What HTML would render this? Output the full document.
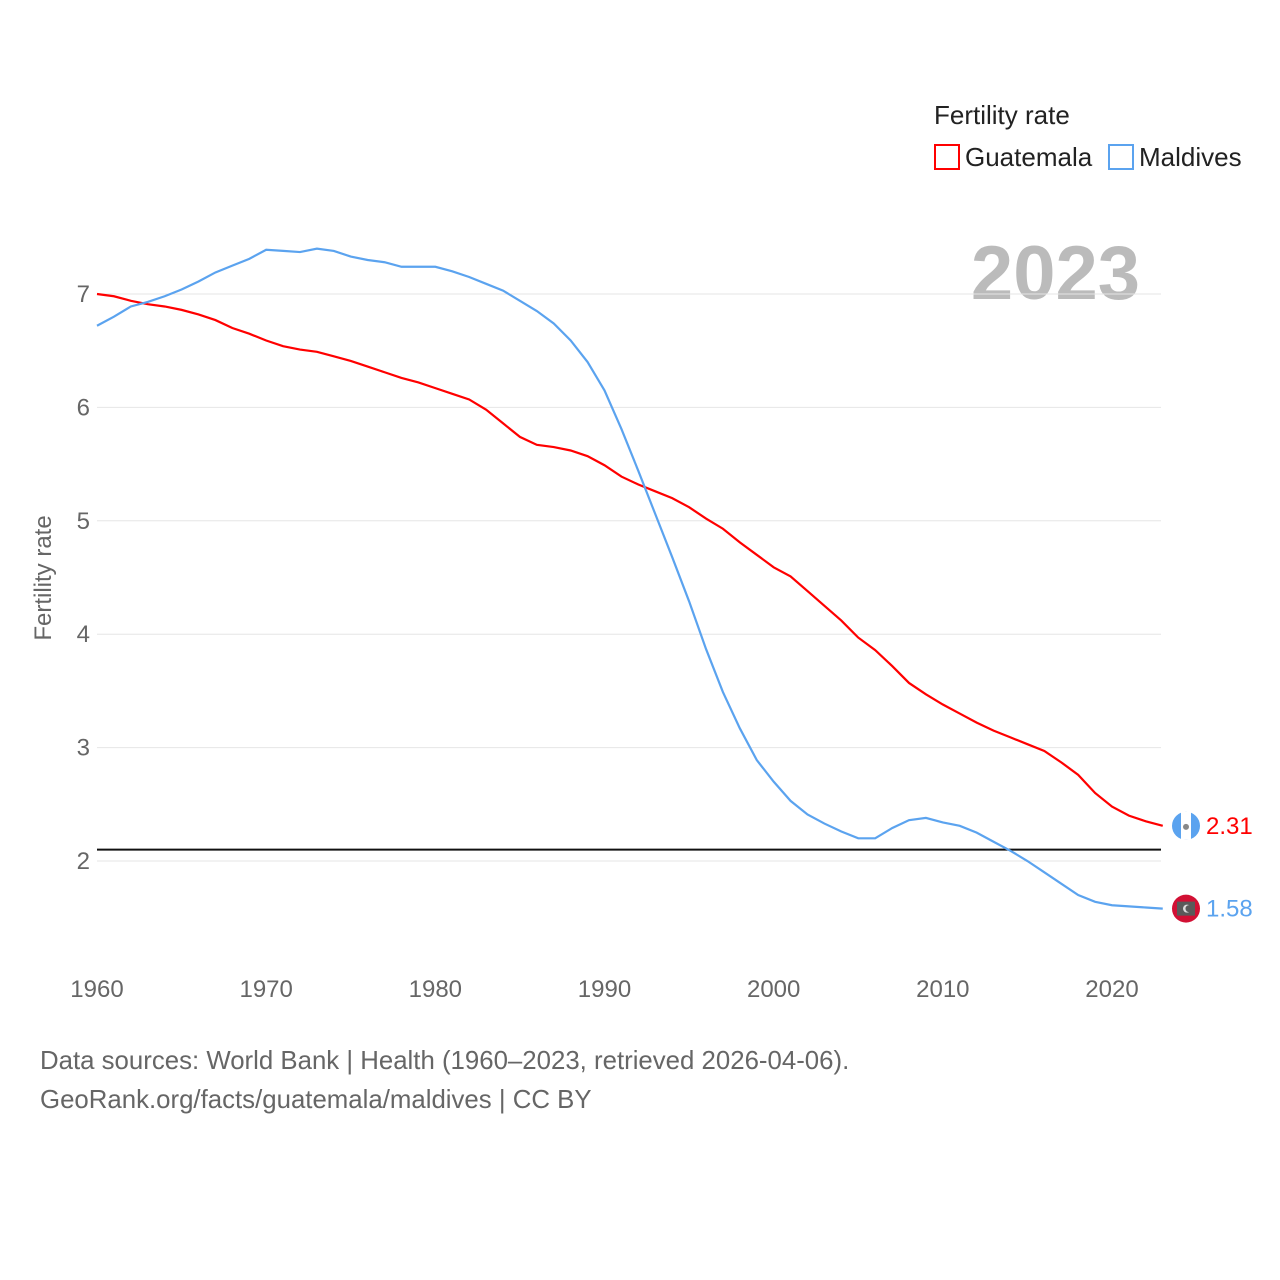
<!DOCTYPE html>
<html><head><meta charset="utf-8"><style>
body{margin:0;background:#fff;}
svg{display:block;font-family:"Liberation Sans",sans-serif;}
</style></head><body>
<svg id="chart" width="1280" height="1280">
<text x="934" y="124" font-size="26" fill="#222">Fertility rate</text>
<g><rect x="935" y="145" width="24" height="24" fill="none" stroke="#f00" stroke-width="2"/><text x="965" y="166" font-size="26" fill="#222">Guatemala</text></g>
<g><rect x="1109" y="145" width="24" height="24" fill="none" stroke="#5ba3ef" stroke-width="2"/><text x="1139" y="166" font-size="26" fill="#222">Maldives</text></g>
<text x="1140" y="299" font-size="76" font-weight="bold" fill="#bbb" text-anchor="end">2023</text>
<text transform="translate(51,578) rotate(-90)" font-size="24" fill="#666" text-anchor="middle">Fertility rate</text>
<g id="grid"></g><g id="series"></g>
<text x="40" y="1069" font-size="25.8" fill="#666">Data sources: World Bank | Health (1960–2023, retrieved 2026-04-06).</text>
<text x="40" y="1108" font-size="25.8" fill="#666">GeoRank.org/facts/guatemala/maldives | CC BY</text>
</svg>
<script>
const years=[];for(let y=1960;y<=2023;y++)years.push(y);
const guatemala=[7.0,6.98,6.94,6.91,6.89,6.86,6.82,6.77,6.70,6.65,6.59,6.54,6.51,6.49,6.45,6.41,6.36,6.31,6.26,6.22,6.17,6.12,6.07,5.98,5.86,5.74,5.67,5.65,5.62,5.57,5.49,5.39,5.32,5.26,5.20,5.12,5.02,4.93,4.81,4.70,4.59,4.51,4.38,4.25,4.12,3.97,3.86,3.72,3.57,3.47,3.38,3.30,3.22,3.15,3.09,3.03,2.97,2.87,2.76,2.60,2.48,2.40,2.35,2.31];
const maldives=[6.72,6.80,6.89,6.93,6.98,7.04,7.11,7.19,7.25,7.31,7.39,7.38,7.37,7.40,7.38,7.33,7.30,7.28,7.24,7.24,7.24,7.20,7.15,7.09,7.03,6.94,6.85,6.74,6.59,6.40,6.15,5.81,5.44,5.06,4.68,4.29,3.87,3.49,3.17,2.89,2.70,2.53,2.41,2.33,2.26,2.20,2.20,2.29,2.36,2.38,2.34,2.31,2.25,2.17,2.09,2.00,1.90,1.80,1.70,1.64,1.61,1.60,1.59,1.58];
const yTicks=[2,3,4,5,6,7];
const xTicks=[1960,1970,1980,1990,2000,2010,2020];
const refLine=2.1;
const NS='http://www.w3.org/2000/svg';
const X=v=>97+(v-1960)*(1112-97)/60;
const Y=v=>861-(v-2)*(861-294)/5;
const grid=document.getElementById('grid'),ser=document.getElementById('series');
function mk(tag,at,parent){const e=document.createElementNS(NS,tag);for(const k in at)e.setAttribute(k,at[k]);parent.appendChild(e);return e;}
yTicks.forEach(t=>{
 const l=mk('line',{x1:97,x2:1161,y1:Y(t),y2:Y(t),stroke:'#e6e6e6','stroke-width':1},grid);
 
 
 const tx=mk('text',{x:90,y:Y(t)+8,'font-size':24,fill:'#666','text-anchor':'end'},grid);tx.textContent=t;
 
 
});
xTicks.forEach(t=>{
 const tx=mk('text',{x:X(t),y:997,'font-size':24,fill:'#666','text-anchor':'middle'},grid);tx.textContent=t;
 
 
});
const rl=mk('line',{x1:97,x2:1161,y1:Y(refLine),y2:Y(refLine),stroke:'#111','stroke-width':2},grid);


function draw(data,color,name){
 const p=mk('polyline',{points:data.map((v,i)=>X(years[i])+','+Y(v)).join(' '),fill:'none',stroke:color,'stroke-width':2.2},ser);
 
 
 const last=data[data.length-1],cy=Y(last);
 const lbl=mk('text',{x:1206,y:cy+8,'font-size':24,fill:color},ser);lbl.textContent=last.toFixed(2);
 
 
 return cy;
}
const gy=draw(guatemala,'#f00','guatemala');
const my=draw(maldives,'#5ba3ef','maldives');
const gf=mk('g',{},ser);


mk('circle',{cx:1186,cy:gy,r:14,fill:'#5ba3ef'},gf);
mk('rect',{x:1181,y:gy-14,width:10,height:28,fill:'#fff'},gf);
mk('circle',{cx:1186,cy:gy+1,r:3,fill:'#888'},gf);
const mf=mk('g',{},ser);


mk('circle',{cx:1186,cy:my,r:14,fill:'#d21034'},mf);
mk('rect',{x:1177,y:my-7,width:18,height:14,fill:'#5a5a5a'},mf);
mk('circle',{cx:1187,cy:my,r:4,fill:'#ddd'},mf);
mk('circle',{cx:1189,cy:my,r:3.5,fill:'#5a5a5a'},mf);
</script>
</body></html>
